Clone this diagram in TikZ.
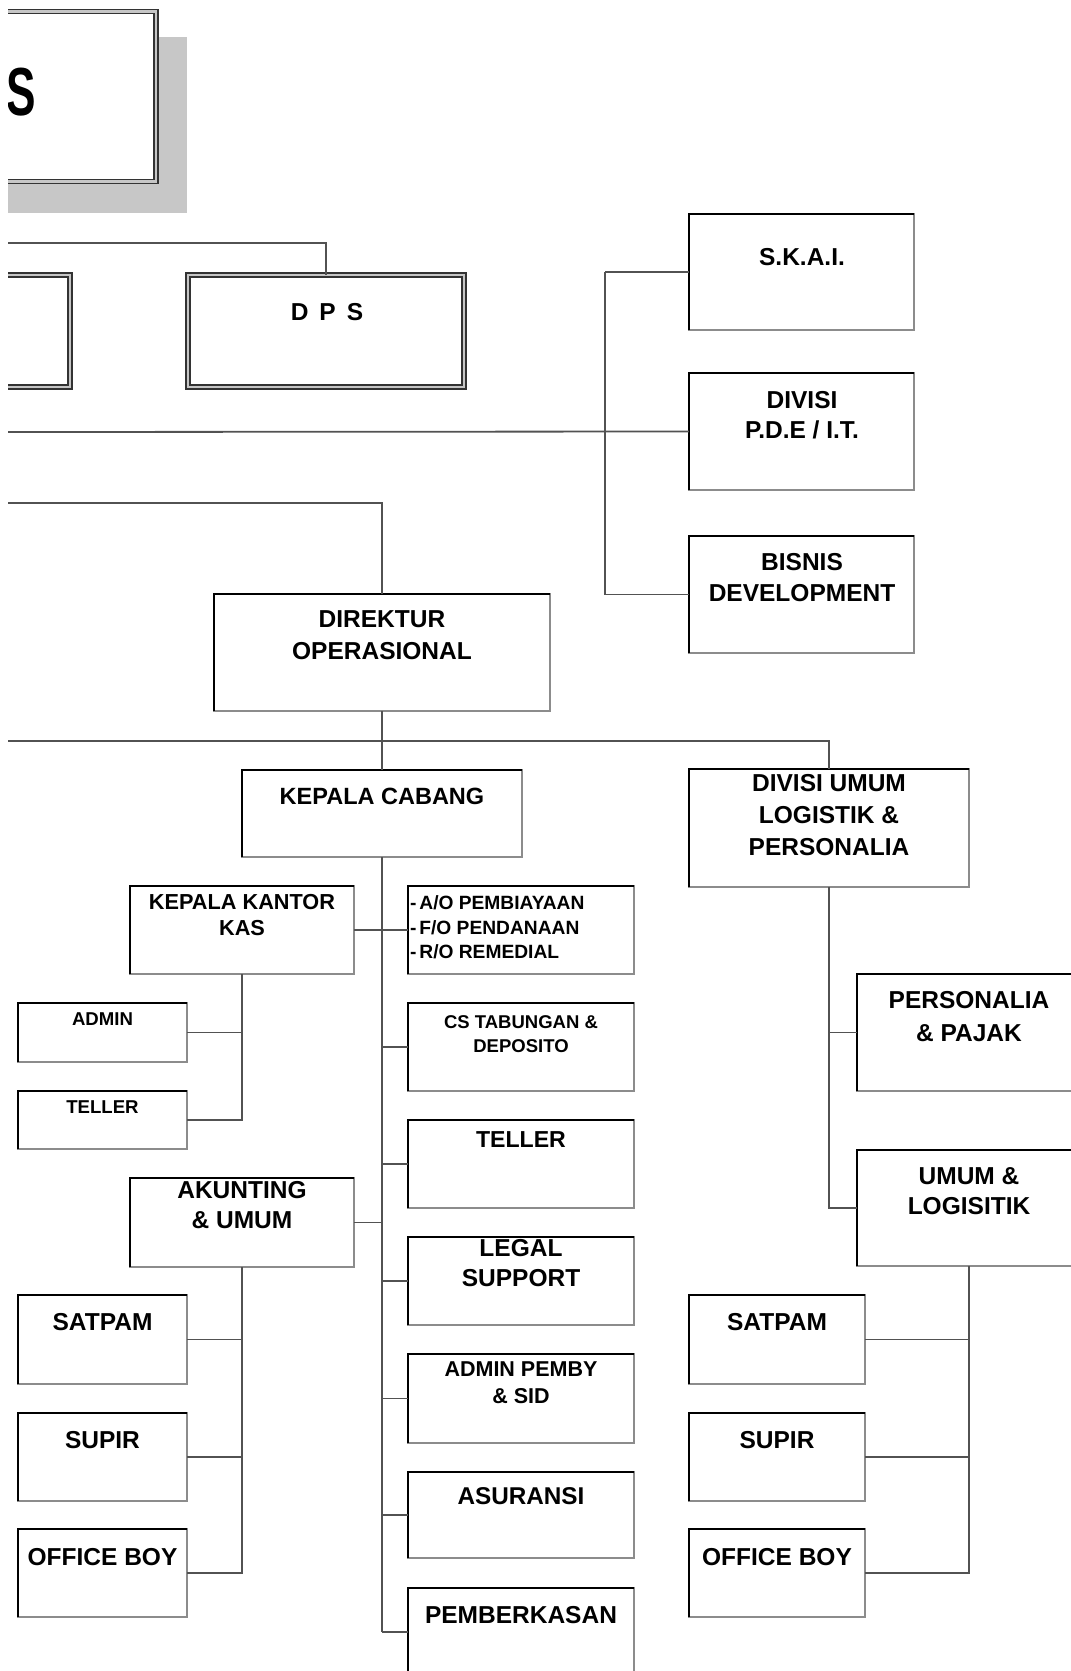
\documentclass[tikz,border=0pt]{standalone}
\usepackage{fontspec}
\setmainfont{Liberation Sans}
\newcommand\mkbox[5]{\pgfmathsetmacro\bw{#4-#2}\pgfmathsetmacro\bh{#5-#3}\node[bx, minimum width=\bw pt, minimum height=\bh pt] (#1) at (#2,#3) {};}
\begin{document}
\begin{tikzpicture}[x=1pt,y=-1pt,
  conn/.style={draw=black!68, line width=1.8pt},
  bx/.style={draw=black!45, line width=1.6pt, fill=white, rectangle, inner sep=0pt, outer sep=0pt, anchor=north west},
  dk/.style={draw=black, line width=2.3pt, line cap=square},
  dbl/.style={draw=black!80, double=gray!45, double distance=2.5pt, line width=1.4pt, fill=white, rectangle, inner sep=0pt, outer sep=0pt, anchor=north west},
  txt/.style={inner sep=0pt, outer sep=0pt, align=center, anchor=north},
  f/.style n args={2}{font=\fontsize{#1}{#2}\selectfont\bfseries}]
\fill[white] (0,0) rectangle (1071,1671);
\useasboundingbox (0,0) rectangle (1071,1671);
\clip (8,0) rectangle (1071,1671);

% free ends of connectors at the left edge
\coordinate (l1) at (8,243);
\coordinate (l2) at (8,432);
\coordinate (l3) at (8,503);
\coordinate (l4) at (8,741);
\coordinate (vx) at (605,432);

% top boxes
\fill[black!22] (-20,37) rectangle (187,213);
\node[dbl, minimum width=176pt, minimum height=170pt] (top) at (-20,11.5) {};
\node[inner sep=0pt, f={68}{68}] (topS) at (21,92) {\scalebox{0.65}[1]{S}};
\node[dbl, minimum width=110pt, minimum height=112pt] (lb) at (-40,275) {};
\node[dbl, minimum width=276pt, minimum height=112pt] (dps) at (188,275) {};

% boxes
\mkbox{skai}{689}{214}{914}{330}
\mkbox{pde}{689}{373}{914}{490}
\mkbox{bis}{689}{536}{914}{653}
\mkbox{dir}{214}{594}{550}{711}
\mkbox{kc}{242}{770}{522}{857}
\mkbox{du}{689}{769}{969}{887}
\mkbox{kkk}{130}{886}{354}{974}
\mkbox{adm}{18}{1003}{187}{1062}
\mkbox{tl}{18}{1091}{187}{1149}
\mkbox{aku}{130}{1178}{354}{1267}
\mkbox{satl}{18}{1295}{187}{1384}
\mkbox{supl}{18}{1413}{187}{1501}
\mkbox{obl}{18}{1529}{187}{1617}
\mkbox{ao}{408}{886}{634}{974}
\mkbox{cs}{408}{1003}{634}{1091}
\mkbox{tc}{408}{1120}{634}{1208}
\mkbox{leg}{408}{1237}{634}{1325}
\mkbox{admp}{408}{1354}{634}{1443}
\mkbox{asu}{408}{1472}{634}{1558}
\mkbox{pemb}{408}{1588}{634}{1676}
\mkbox{pp}{857}{974}{1081}{1091}
\mkbox{ul}{857}{1150}{1081}{1266}
\mkbox{satr}{689}{1295}{865}{1384}
\mkbox{supr}{689}{1413}{865}{1501}
\mkbox{obr}{689}{1529}{865}{1617}

\foreach \n in {skai,pde,bis,dir,kc,du,kkk,adm,tl,aku,satl,supl,obl,ao,cs,tc,leg,admp,asu,pemb,pp,ul,satr,supr,obr}
  \draw[dk] (\n.south west) -- (\n.north west) -- (\n.north east);

% connectors
\draw[conn] (l1) -| (dps.north);
\draw[conn] (l2) -- (pde.west);
\draw[conn] (vx |- skai.west) -- (skai.west);
\draw[conn] (vx |- skai.west) -- (vx |- bis.west) -- (bis.west);
\draw[conn] (l3) -| (dir.north);
\draw[conn] (dir.south) -- (kc.north);
\draw[conn] (l4) -| (du.north);
\draw[conn] (kc.south) -- (kc.south |- pemb.west);
\foreach \n in {ao,cs,tc,leg,admp,asu,pemb}
  \draw[conn] (kc.south |- \n.west) -- (\n.west);
\draw[conn] (kkk.east) -- (kc.south |- kkk.east);
\draw[conn] (aku.east) -- (kc.south |- aku.east);
\draw[conn] (kkk.south) -- (kkk.south |- tl.east) -- (tl.east);
\draw[conn] (kkk.south |- adm.east) -- (adm.east);
\draw[conn] (aku.south) -- (aku.south |- obl.east) -- (obl.east);
\draw[conn] (aku.south |- satl.east) -- (satl.east);
\draw[conn] (aku.south |- supl.east) -- (supl.east);
\draw[conn] (du.south) -- (du.south |- ul.west) -- (ul.west);
\draw[conn] (du.south |- pp.west) -- (pp.west);
\draw[conn] (ul.south) -- (ul.south |- obr.east) -- (obr.east);
\draw[conn] (ul.south |- satr.east) -- (satr.east);
\draw[conn] (ul.south |- supr.east) -- (supr.east);

% texts
\node[txt, f={24.5}{30}] (t-dps) at (327,303) {D\hskip11pt P\hskip11pt S};
\node[txt, f={24.5}{30}] (t-skai) at (802,248) {S.K.A.I.};
\node[txt, f={24.5}{30}] (t-pde) at (802,391) {DIVISI\\P.D.E / I.T.};
\node[txt, f={24.5}{31}] (t-bis) at (802,553) {BISNIS\\DEVELOPMENT};
\node[txt, f={24.5}{32}] (t-dir) at (382,611) {DIREKTUR\\OPERASIONAL};
\node[txt, f={23.5}{30}] (t-kc) at (382,788) {KEPALA CABANG};
\node[txt, f={24.5}{32}] (t-du) at (829,774) {DIVISI UMUM\\LOGISTIK \&\\PERSONALIA};
\node[txt, f={21.7}{26}] (t-kkk) at (242,894) {KEPALA KANTOR\\KAS};
\node[txt, f={18.6}{22}] (t-adm) at (102.5,1013) {ADMIN};
\node[txt, f={18.6}{22}] (t-tl) at (102.5,1101) {TELLER};
\node[txt, f={24.5}{30}] (t-aku) at (242,1181) {AKUNTING\\\& UMUM};
\node[txt, f={24.5}{30}] (t-satl) at (102.5,1313) {SATPAM};
\node[txt, f={24.5}{30}] (t-supl) at (102.5,1431) {SUPIR};
\node[txt, f={24.5}{30}] (t-obl) at (102.5,1548) {OFFICE BOY};
\node[txt, f={19.2}{24.5}, align=left, anchor=north west] (t-ao) at (410,896) {-\hspace{3pt}A/O PEMBIAYAAN\\-\hspace{3pt}F/O PENDANAAN\\-\hspace{3pt}R/O REMEDIAL};
\node[txt, f={18.5}{24}] (t-cs) at (521,1016) {CS TABUNGAN \&\\DEPOSITO};
\node[txt, f={23.1}{28}] (t-tc) at (521,1131.5) {TELLER};
\node[txt, f={24.5}{30}] (t-leg) at (521,1239) {LEGAL\\SUPPORT};
\node[txt, f={21.5}{27}] (t-admp) at (521,1362) {ADMIN PEMBY\\\& SID};
\node[txt, f={24.3}{30}] (t-asu) at (521,1488) {ASURANSI};
\node[txt, f={24.5}{30}] (t-pemb) at (521,1606) {PEMBERKASAN};
\node[txt, f={24.5}{33}] (t-pp) at (969,991) {PERSONALIA\\\& PAJAK};
\node[txt, f={24.5}{30}] (t-ul) at (969,1168) {UMUM \&\\LOGISITIK};
\node[txt, f={24.5}{30}] (t-satr) at (777,1313) {SATPAM};
\node[txt, f={24.5}{30}] (t-supr) at (777,1431) {SUPIR};
\node[txt, f={24.5}{30}] (t-obr) at (777,1548) {OFFICE BOY};
\end{tikzpicture}
\end{document}
